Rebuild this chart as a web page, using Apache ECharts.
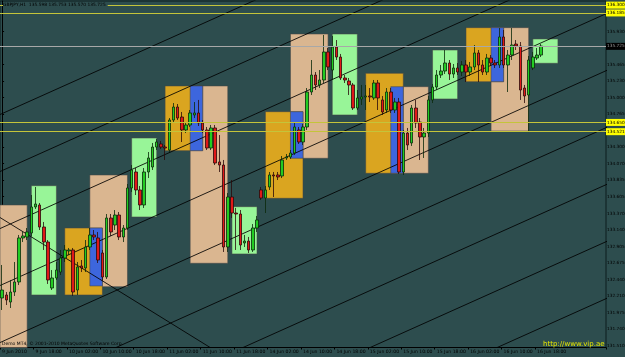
<!DOCTYPE html>
<html><head><meta charset="utf-8">
<script src="https://cdn.jsdelivr.net/npm/echarts@6/dist/echarts.min.js"></script>
<style>html,body{margin:0;padding:0;background:#2d4d4e;}#c{width:625px;height:357px;}</style>
</head><body><div id="c"></div>
<script>
// time axis labels (every 8 hourly bars)
const timeLabels = ['9 Jun 2010','9 Jun 18:00','10 Jun 02:00','10 Jun 10:00','10 Jun 18:00','11 Jun 02:00','11 Jun 10:00','11 Jun 18:00','14 Jun 02:00','14 Jun 10:00','14 Jun 18:00','15 Jun 02:00','15 Jun 10:00','15 Jun 18:00','16 Jun 02:00','16 Jun 10:00','16 Jun 18:00'];
const emptyBarsRight = 15;
// GBPJPY H1 candles
const opens = [132.181,132.223,132.124,132.265,132.406,133.025,133.039,133.095,133.461,133.489,133.179,132.968,132.321,132.462,132.546,132.743,132.842,132.856,132.293,132.631,132.603,132.898,133.067,133.025,132.814,132.476,133.306,133.207,133.348,133.039,133.165,133.728,133.953,133.700,133.489,133.953,134.023,134.304,134.347,134.304,134.262,134.684,134.867,134.726,134.544,134.614,134.755,134.783,134.642,134.544,134.290,134.572,134.094,134.051,132.898,133.601,133.376,133.362,132.954,132.982,132.856,133.165,133.700,133.587,133.742,133.911,133.911,133.897,134.150,134.164,134.220,134.544,134.375,134.586,135.078,135.317,135.177,135.247,135.641,135.387,135.711,135.570,135.275,135.233,135.177,134.853,134.980,135.008,135.022,134.994,135.205,134.966,134.825,135.078,134.825,134.937,133.953,134.501,134.361,134.853,134.656,134.445,134.501,134.966,135.148,135.317,135.373,135.486,135.331,135.416,135.359,135.458,135.359,135.430,135.627,135.458,135.359,135.556,135.486,135.458,135.852,135.458,135.598,135.753,135.725,135.134,135.036,135.416,135.556,135.598];
const closes = [132.293,132.153,132.265,132.406,133.025,133.053,133.109,133.461,133.503,133.179,132.968,132.434,132.462,132.574,132.743,132.856,132.856,132.265,132.617,132.603,132.898,133.067,133.039,132.715,132.476,133.306,133.109,133.348,133.039,133.165,133.728,133.981,133.700,133.489,133.953,134.150,134.304,134.375,134.304,134.290,134.684,134.867,134.712,134.544,134.614,134.783,134.783,134.642,134.544,134.290,134.572,134.079,134.051,132.898,133.601,133.376,133.362,132.926,132.982,132.856,133.165,133.278,133.587,133.700,133.911,133.897,133.883,134.122,134.164,134.220,134.586,134.375,134.586,135.078,135.317,135.177,135.247,135.641,135.430,135.711,135.570,135.275,135.247,135.177,134.853,134.994,135.008,135.022,135.008,135.205,134.994,134.797,135.078,134.825,134.937,133.953,134.501,134.333,134.853,134.642,134.445,134.501,134.966,135.148,135.317,135.373,135.486,135.331,135.416,135.359,135.458,135.359,135.430,135.627,135.458,135.359,135.556,135.486,135.458,135.852,135.458,135.598,135.739,135.725,135.106,135.022,135.528,135.570,135.598,135.725];
const lows = [132.012,132.082,132.040,132.209,132.363,132.968,132.996,133.053,133.432,133.137,132.856,132.378,132.293,132.434,132.504,132.687,132.785,132.209,132.223,132.546,132.546,132.856,132.996,132.673,132.420,132.448,133.053,133.137,132.996,132.968,133.137,133.672,133.629,133.418,133.447,133.868,133.981,134.262,134.276,134.122,134.234,134.656,134.684,134.375,134.501,134.586,134.712,134.600,134.501,134.262,134.262,134.051,133.953,132.828,132.828,133.306,132.856,132.856,132.898,132.814,132.828,133.109,133.559,133.376,133.700,133.601,133.840,133.868,134.122,134.136,134.192,134.347,134.333,134.544,135.036,135.106,135.134,135.205,135.387,135.247,135.528,135.247,135.205,135.036,134.825,134.825,134.895,134.825,134.937,134.966,134.825,134.755,134.783,134.783,134.783,133.925,133.911,134.262,134.319,134.572,134.122,134.150,134.445,134.923,135.106,135.275,135.331,135.247,135.275,135.317,135.303,135.219,135.303,135.387,135.219,135.317,135.317,135.444,135.416,135.416,135.416,135.078,135.528,135.669,134.966,134.923,134.515,135.387,135.528,135.570];
const highs = [132.645,132.265,132.434,132.687,133.067,133.109,133.165,133.629,133.742,133.517,133.250,132.996,132.574,132.687,132.856,132.926,132.884,132.884,132.687,132.715,132.996,133.165,133.137,133.109,132.856,133.362,133.362,133.418,133.390,133.207,133.784,134.051,134.009,133.756,134.009,134.234,134.361,134.417,134.389,134.333,134.712,134.923,134.909,134.797,134.656,134.825,134.937,134.966,134.684,134.586,134.614,134.614,134.473,134.122,133.657,133.840,133.447,133.418,133.067,133.039,133.221,133.334,133.742,133.756,133.953,133.953,133.953,134.178,134.206,134.262,134.656,134.586,134.628,135.134,135.528,135.359,135.387,135.880,135.697,135.866,135.809,135.613,135.317,135.275,135.205,135.106,135.177,135.177,135.134,135.247,135.247,135.022,135.134,135.134,134.994,134.994,134.544,134.572,134.895,134.966,134.712,134.572,135.022,135.191,135.387,135.458,135.669,135.528,135.472,135.486,135.514,135.528,135.500,135.739,135.669,135.528,135.613,135.598,135.528,135.978,135.950,135.669,135.978,135.809,135.781,135.177,135.584,135.641,135.697,135.753];
// zones: start bar, end bar, top price, bottom price, kind
const zoneStart  = [-5, 21, 45, 69, 93, 117, 15, 39, 63, 87, 111, 21, 45, 69, 93, 117, 7, 31, 55, 79, 103, 127];
const zoneEnd    = [6, 30, 54, 78, 102, 126, 24, 48, 72, 96, 120, 24, 48, 72, 96, 120, 13, 37, 61, 85, 109, 133];
const zoneTop    = [133.489,133.911,135.163,135.894,135.153,135.983, 133.165,135.163,134.801,135.341,135.983, 133.165,135.163,134.801,135.153,135.983, 133.760,134.431,133.465,135.894,135.669,135.824];
const zoneBottom = [130.746,132.340,132.669,134.146,133.935,134.530, 132.223,134.253,133.583,133.935,135.223, 132.350,134.253,134.146,133.935,135.223, 132.223,133.320,132.800,134.755,134.980,135.482];
const zoneKind   = ['tan','tan','tan','tan','tan','tan','orange','orange','orange','orange','orange','blue','blue','blue','blue','blue','green','green','green','green','green','green'];
// trend lines: bar index / price at both ends
const lineBar1   = [-20,-20,-20,-20,-20,-20,-20,-20,-20,-10];
const linePrice1 = [134.247,133.445,132.643,131.842,131.040,130.238,129.437,128.635,127.833,133.658];
const lineBar2   = [150,150,150,150,150,150,150,150,150,60];
const linePrice2 = [138.729,137.928,137.126,136.324,135.522,134.721,133.919,133.117,132.316,131.113];
// horizontal levels
const yellowLevels = [136.300, 136.185, 134.650, 134.521];
const bidPrice = 135.725;
const priceTicks = [131.510,131.740,131.975,132.210,132.440,132.675,132.905,133.140,133.370,133.605,133.835,134.070,134.300,134.765,135.000,135.230,135.465,135.930];
const titleText = 'GBPJPY,H1  135.598 135.753 135.570 135.725';

const zoneColors = {tan:'#dab690', orange:'#daa520', blue:'#3d66dd', green:'#98f598'};
const nBars = opens.length;
const nCats = nBars + emptyBarsRight;
const cats = []; for (let i = 0; i < nCats; i++) cats.push(String(i));
const candleData = []; for (let i = 0; i < nBars; i++) candleData.push([opens[i], closes[i], lows[i], highs[i]]);
const zoneData = zoneStart.map((s, i) => [s, zoneEnd[i], zoneTop[i], zoneBottom[i], i]);
const labelAt = idx => idx % 8 === 0 && idx / 8 < timeLabels.length;

const chart = echarts.init(document.getElementById('c'), null, {renderer:'canvas'});
const FONT = 'DejaVu Sans';
const series = [];
series.push({
  type:'custom', xAxisIndex:1, yAxisIndex:0, z:1, silent:true,
  data: zoneData,
  renderItem: function (params, api) {
    const p1 = api.coord([api.value(0), api.value(2)]);
    const p2 = api.coord([api.value(1), api.value(3)]);
    const k = zoneKind[api.value(4)];
    const shape = echarts.graphic.clipRectByRect(
      {x:p1[0], y:p1[1], width:p2[0]-p1[0], height:p2[1]-p1[1]},
      {x:params.coordSys.x, y:params.coordSys.y, width:params.coordSys.width, height:params.coordSys.height});
    if (!shape) return;
    return {type:'rect', shape: shape, style:{fill: zoneColors[k], stroke:'rgba(70,70,70,0.55)', lineWidth:1}};
  }
});
for (let i = 0; i < lineBar1.length; i++) {
  series.push({type:'line', xAxisIndex:1, yAxisIndex:0, z:2, silent:true, symbol:'none', clip:true,
    data:[[lineBar1[i], linePrice1[i]], [lineBar2[i], linePrice2[i]]],
    lineStyle:{color:'#000', width:1, opacity:0.85}});
}
const lvlLabel = (txt, fg, bg) => ({show:true, position:'end', distance:0, formatter: txt,
  color:fg, backgroundColor:bg, padding:[2,2,1,1], fontSize:4.3, fontFamily:FONT});
series.push({
  type:'candlestick', xAxisIndex:0, yAxisIndex:0, z:3, barWidth:3,
  data: candleData,
  itemStyle:{color:'#22cc22', color0:'#e01818', borderColor:'#0a2a0a', borderColor0:'#2a0a0a', borderWidth:0.8},
  markLine:{
    silent:true, symbol:'none', z:5,
    data: yellowLevels.map(v => ({yAxis:v, lineStyle:{color:'#c4c43a', width:1, type:'solid'},
      label: lvlLabel(v.toFixed(3), '#000', '#ffff00')}))
      .concat([{yAxis:bidPrice, lineStyle:{color:'#a8a8a8', width:1, type:'solid'},
      label: lvlLabel(bidPrice.toFixed(3), '#9a9a9a', '#000')}])
  }
});

chart.setOption({
  animation:false,
  backgroundColor:'#2d4d4e',
  grid:{left:0, right:19, top:1, bottom:9.5, containLabel:false, outerBoundsMode:'none', show:true, backgroundColor:'#2d4d4e', borderColor:'#0d1d1d', borderWidth:1},
  xAxis:[{
    type:'category', data:cats, boundaryGap:true, position:'bottom',
    axisLine:{show:true, lineStyle:{color:'#000', width:1}},
    axisTick:{show:true, interval: labelAt, length:2, lineStyle:{color:'#000'}},
    axisLabel:{show:true, interval: labelAt, formatter:(v, idx) => timeLabels[idx/8] || '', align:'left', fontSize:4.6, color:'#000', margin:2, fontFamily:FONT},
    splitLine:{show:false}
  },{
    type:'value', min:-0.5, max:nCats-0.5, show:false
  }],
  yAxis:[{
    type:'value', position:'right', min:131.4844, max:136.358, scale:true,
    axisLine:{show:true, lineStyle:{color:'#000', width:1}},
    axisTick:{show:true, customValues:priceTicks, length:2, lineStyle:{color:'#000'}},
    axisLabel:{show:true, customValues:priceTicks, formatter:v => v.toFixed(3), fontSize:4.3, color:'#000', margin:1, fontFamily:FONT},
    splitLine:{show:false}
  }],
  graphic:[
    {type:'text', left:3, top:3, z:100, style:{text:titleText, fill:'#000', font:'4.4px '+FONT, backgroundColor:'#2d4d4e', padding:[0,2,0,0]}},
    {type:'text', left:2, top:341.5, z:100, style:{text:'Demo MT4, \u00a9 2001-2010 MetaQuotes Software Corp.', fill:'#000', font:'4.5px '+FONT}},
    {type:'text', left:543, top:341, z:100, style:{text:'http://www.vip.ae', fill:'#e8e800', font:'7px '+FONT}}
  ],
  series: series
});
</script></body></html>
